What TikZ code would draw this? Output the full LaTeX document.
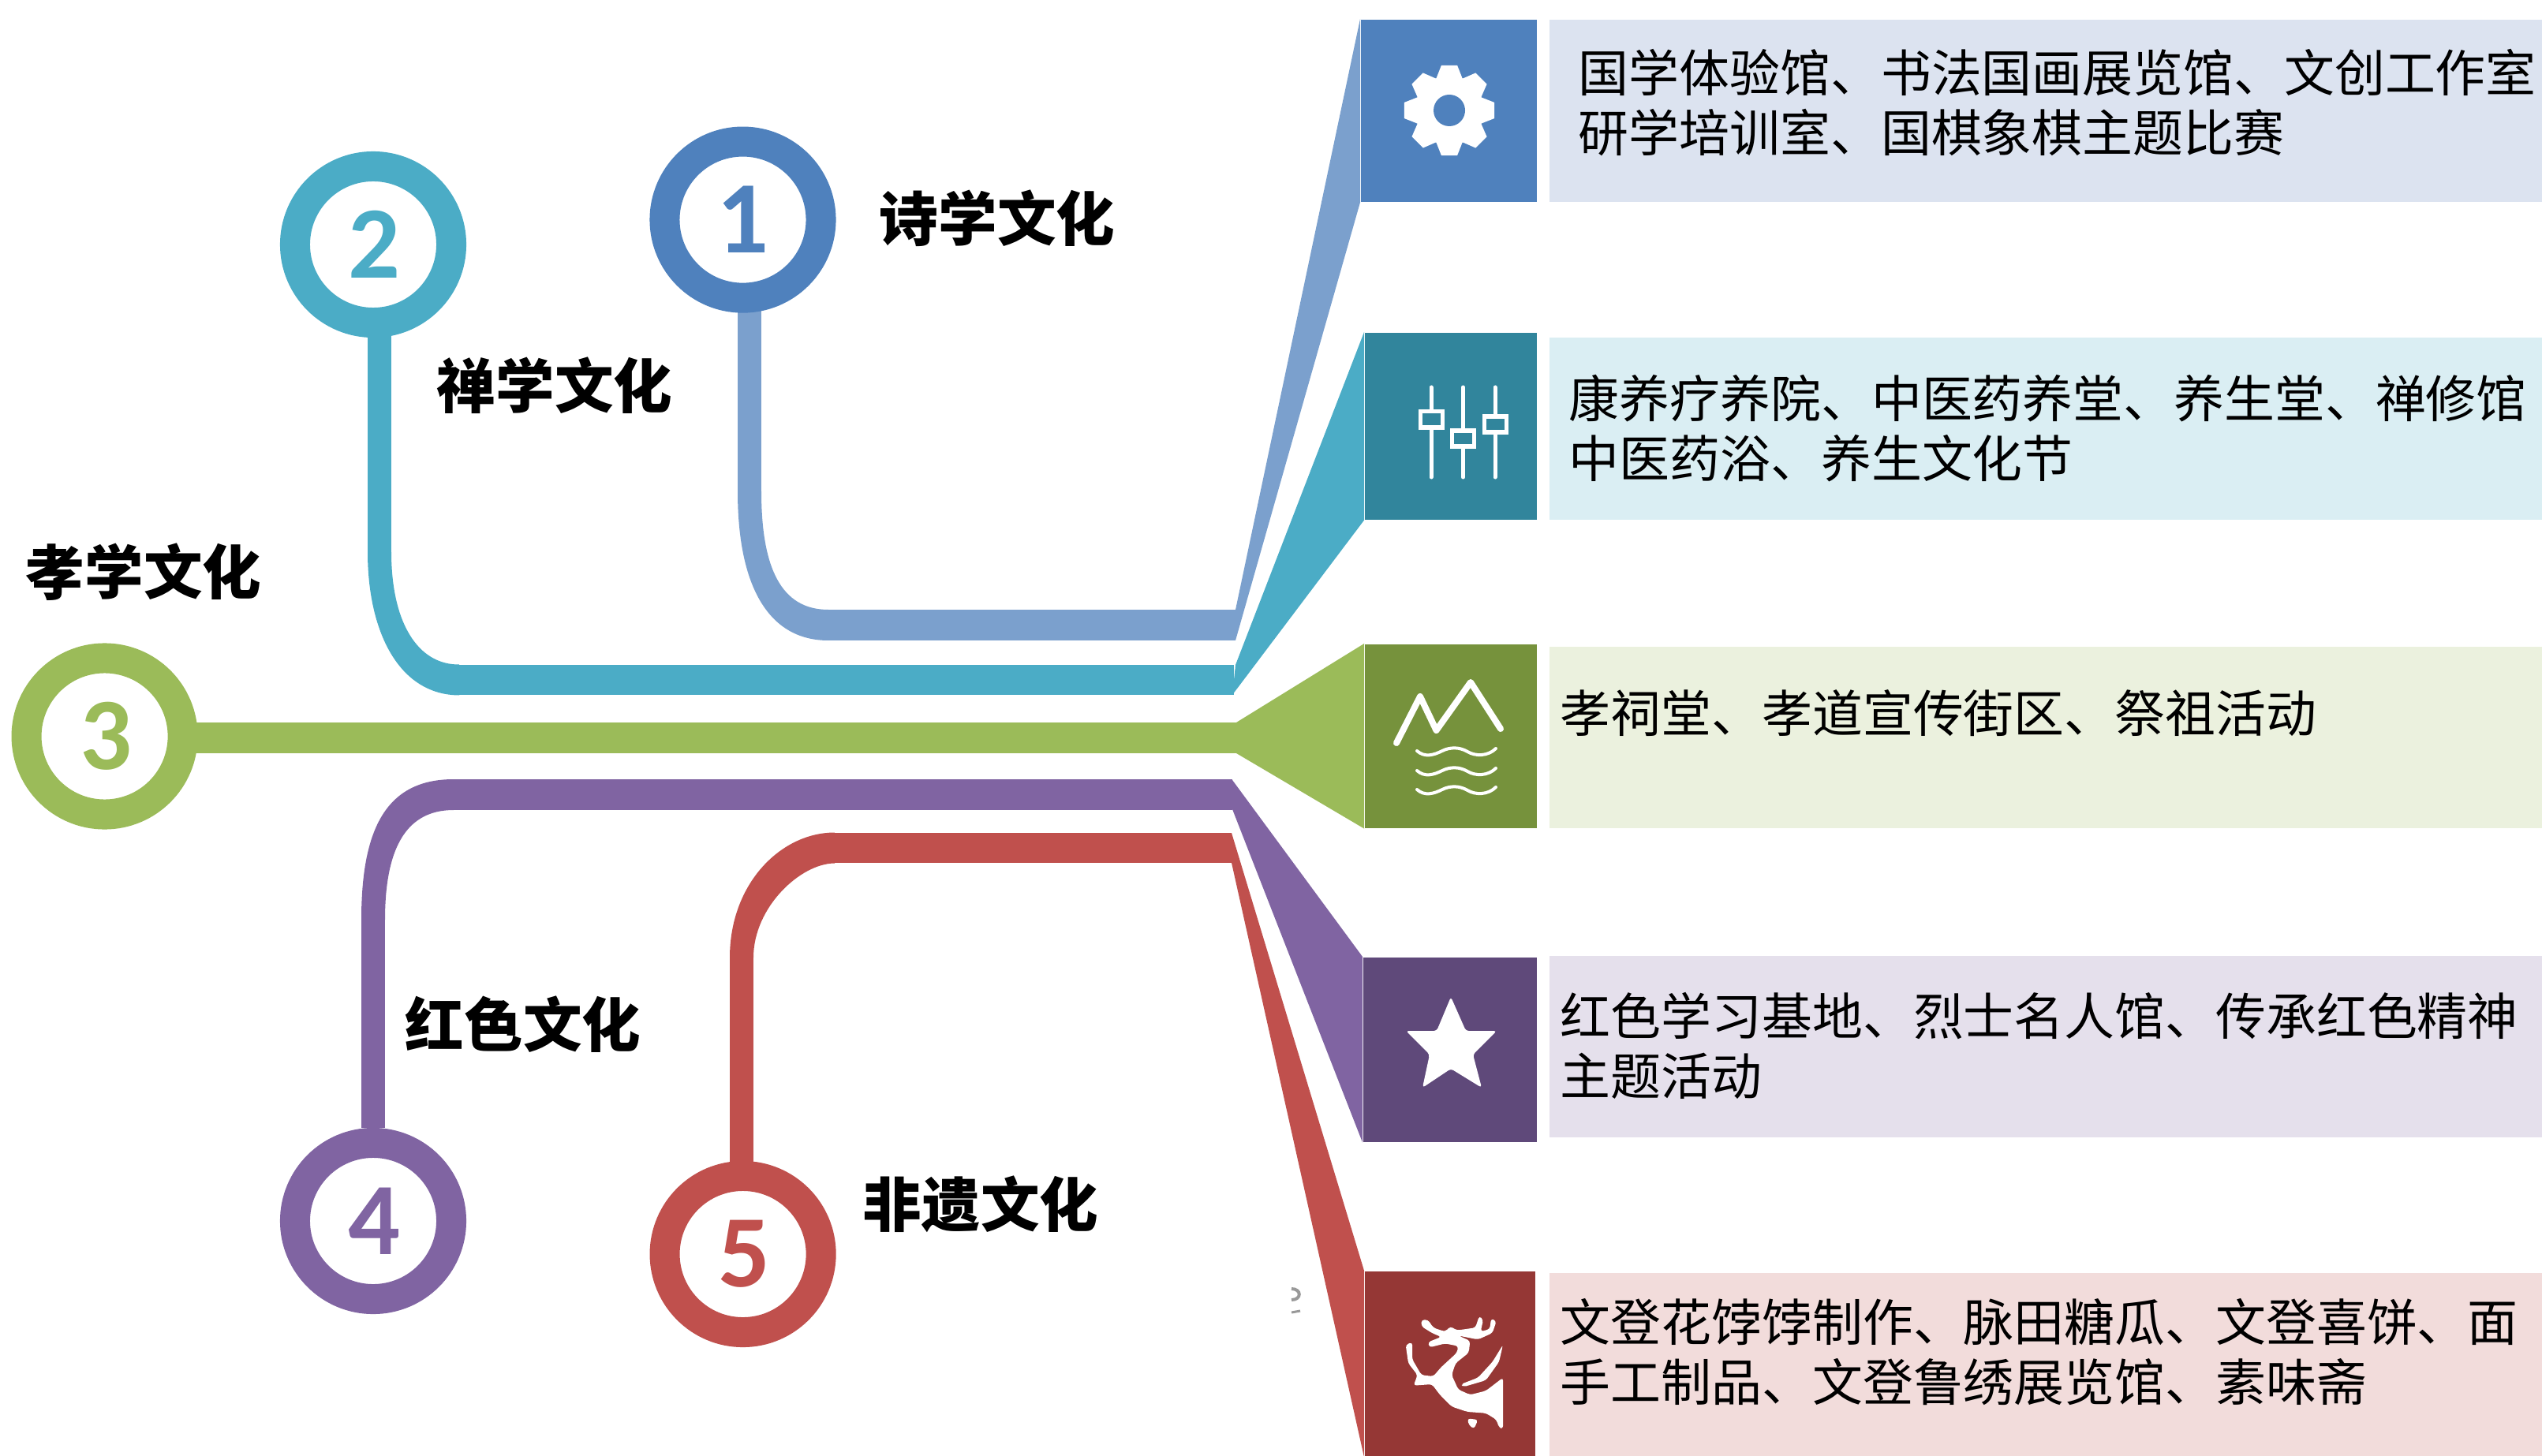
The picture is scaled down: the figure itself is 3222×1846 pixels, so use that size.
\documentclass[tikz,border=0pt]{standalone}
\usepackage{fontspec}
\setmainfont{Noto Sans CJK SC}
\newfontfamily\numfont{Carlito}
\usetikzlibrary{backgrounds,calc}

\definecolor{blueA}{HTML}{4F81BD}
\definecolor{blueB}{HTML}{7BA0CD}
\definecolor{blueC}{HTML}{DCE3F0}
\definecolor{tealA}{HTML}{4BACC6}
\definecolor{tealB}{HTML}{31859C}
\definecolor{tealC}{HTML}{DAEEF3}
\definecolor{greenA}{HTML}{9BBB59}
\definecolor{greenB}{HTML}{76923C}
\definecolor{greenC}{HTML}{EBF1DE}
\definecolor{violetA}{HTML}{8064A2}
\definecolor{violetB}{HTML}{5F497A}
\definecolor{violetC}{HTML}{E5E0EC}
\definecolor{redA}{HTML}{C0504D}
\definecolor{redB}{HTML}{953735}
\definecolor{redC}{HTML}{F2DCDB}

\begin{document}
\begin{tikzpicture}[x=0.01cm,y=-0.01cm]

  \tikzstyle{ring}=[circle,fill=white,line width=0.38cm,minimum size=1.98cm,inner sep=0pt,font=\numfont\fontsize{37}{37}\selectfont\bfseries]
  \tikzstyle{icon}=[rectangle,anchor=north west,inner sep=0pt]
  \tikzstyle{panel}=[rectangle,anchor=north west,inner sep=0pt,minimum width=12.59cm]
  \tikzstyle{say}=[anchor=west,align=left,inner sep=0pt,font=\fontsize{18.17}{21.6}\selectfont]
  \tikzstyle{tag}=[inner sep=0pt,font=\fontsize{21.2}{21}\selectfont\bfseries]
  \tikzstyle{lineA}=[line width=0.30cm]
  \tikzstyle{lineC}=[line width=0.385cm]

  \useasboundingbox (0,0) rectangle (3222,1846);

  \node[ring,draw=blueA,text=blueA] (n1) at (941.5,278.6) {1};
  \node[ring,draw=tealA,text=tealA] (n2) at (473,310) {\hspace{1pt}2};
  \node[ring,draw=greenA,text=greenA] (n3) at (132.6,933.5) {\hspace{1pt}3};
  \node[ring,draw=violetA,text=violetA] (n4) at (473,1548) {\hspace{1pt}4};
  \node[ring,draw=redA,text=redA] (n5) at (941.6,1590) {\hspace{1pt}5};

  \node[tag] (l1) at (1264,277) {诗学文化};
  \node[tag] (l2) at (703,489) {禅学文化};
  \node[tag] (l3) at (182,725) {孝学文化};
  \node[tag] (l4) at (663,1299) {红色文化};
  \node[tag] (l5) at (1243,1527) {非遗文化};

  \node[icon,fill=blueA,minimum width=2.23cm,minimum height=2.31cm] (i1) at (1724,24) {};
  \node[icon,fill=tealB,minimum width=2.18cm,minimum height=2.37cm] (i2) at (1729,421) {};
  \node[icon,fill=greenB,minimum width=2.18cm,minimum height=2.33cm] (i3) at (1729,816) {};
  \node[icon,fill=violetB,minimum width=2.20cm,minimum height=2.34cm] (i4) at (1727,1213) {};
  \node[icon,fill=redB,minimum width=2.16cm,minimum height=2.35cm] (i5) at (1729,1611) {};

  \node[panel,fill=blueC,minimum height=2.31cm] (p1) at (1963,24) {};
  \node[panel,fill=tealC,minimum height=2.31cm] (p2) at (1963,427) {};
  \node[panel,fill=greenC,minimum height=2.30cm] (p3) at (1963,819) {};
  \node[panel,fill=violetC,minimum height=2.30cm] (p4) at (1963,1211) {};
  \node[panel,fill=redC,minimum height=2.33cm] (p5) at (1963,1613) {};

  \node[say] (t1) at (2000,130) {国学体验馆、书法国画展览馆、文创工作室\\研学培训室、国棋象棋主题比赛};
  \node[say] (t2) at (1988,543) {康养疗养院、中医药养堂、养生堂、禅修馆\\中医药浴、养生文化节};
  \node[say] (t3) at (1977,904) {孝祠堂、孝道宣传街区、祭祖活动};
  \node[say] (t4) at (1977,1326) {红色学习基地、烈士名人馆、传承红色精神\\主题活动};
  \node[say] (t5) at (1977,1714) {文登花饽饽制作、脉田糖瓜、文登喜饼、面\\手工制品、文登鲁绣展览馆、素味斋};

  \coordinate (a1) at (950,623);
  \coordinate (b1) at (1050,792.5);
  \coordinate (w1) at (1566,792.5);
  \coordinate (a2) at (481,700);
  \coordinate (b2) at (582,862);
  \coordinate (w2) at (1564,862);
  \coordinate (w3) at (1567,935.5);
  \coordinate (a4) at (473,1166);
  \coordinate (b4) at (575,1007.5);
  \coordinate (w4) at (1562,1007.5);
  \coordinate (a5) at (940,1214);
  \coordinate (b5) at (1058,1075);
  \coordinate (w5) at (1561,1075);

  \begin{scope}[on background layer]
    \draw[lineA,blueB] (n1 -| a1) -- (a1);
    \fill[blueB] ($(a1)+(-15,0)$) .. controls (935,745) and (975,812) .. ($(b1)+(0,19.5)$) -- ($(b1)+(0,-19.5)$) .. controls (990,773) and (965,720) .. ($(a1)+(15,0)$) -- cycle;
    \draw[lineC,blueB] (b1) -- (w1);
    \draw[lineA,tealA] (n2 -| a2) -- (a2);
    \fill[tealA] ($(a2)+(-15,0)$) .. controls (466,800) and (505,881) .. ($(b2)+(0,19.5)$) -- ($(b2)+(0,-19.5)$) .. controls (530,843) and (496,790) .. ($(a2)+(15,0)$) -- cycle;
    \draw[lineC,tealA] (b2) -- (w2);
    \draw[lineC,greenA] (n3 |- w3) -- (w3);
    \draw[lineA,violetA] (n4) -- (a4);
    \fill[violetA] ($(a4)+(-15,0)$) .. controls (458,1050) and (490,988) .. ($(b4)+(0,-19.5)$) -- ($(b4)+(0,19.5)$) .. controls (525,1027) and (488,1060) .. ($(a4)+(15,0)$) -- cycle;
    \draw[lineC,violetA] (b4) -- (w4);
    \draw[lineA,redA] (n5 -| a5) -- (a5);
    \fill[redA] ($(a5)+(-15,0)$) .. controls (925,1120) and (990,1055.5) .. ($(b5)+(0,-19.5)$) -- ($(b5)+(0,19.5)$) .. controls (1015,1094.5) and (955,1150) .. ($(a5)+(15,0)$) -- cycle;
    \draw[lineC,redA] (b5) -- (w5);
  \end{scope}

  \fill[blueB] (1566,773) -- (i1.north west) -- (i1.south west) -- (1566,812) -- cycle;
  \fill[tealA] (1566,843) -- (i2.north west) -- (i2.south west) -- (1562,881) -- cycle;
  \fill[greenA] (1567,916) -- (i3.north west) -- (i3.south west) -- (1567,955) -- cycle;
  \fill[violetA] (1562,989) -- (i4.north west) -- (i4.south west) -- (1562,1026) -- cycle;
  \fill[redA] (1561,1056) -- (i5.north west) -- (i5.south west) -- (1561,1094) -- cycle;

  %gear
  \coordinate (g1) at (1837,140);
  \fill[white] (g1) circle (44);
  \foreach \a in {0,45,...,315}
    \fill[white] ([shift={(\a-10:58)}]g1) -- ([shift={(\a+10:58)}]g1) -- ([shift={(\a+22:44)}]g1) -- ([shift={(\a-22:44)}]g1) -- cycle;
  \fill[blueA] (g1) circle (20);

  %sliders
  \foreach \x/\y in {1814/532,1854.5/556,1895/538} {
    \draw[white,line width=0.05cm,line cap=round] (\x,491) -- (\x,605);
    \draw[white,fill=tealB,line width=0.05cm] (\x-14,\y-10) rectangle (\x+14,\y+10);
  }

  %mountain
  \draw[white,line width=0.08cm,line cap=round,line join=round] (1770,942) -- (1800,883) -- (1820.5,926) -- (1864,865) -- (1902,924);
  \foreach \y in {952,977,1001}
    \draw[white,line width=0.04cm,line cap=round] (1796,\y) .. controls (1806,\y+9) and (1818,\y+5) .. (1828,\y) .. controls (1838,\y-5) and (1850,\y-5) .. (1860,\y+1) .. controls (1870,\y+7) and (1886,\y+7) .. (1896,\y-3);

  %star
  \fill[white,rounded corners=1pt] (1839,1264) -- (1858,1307) -- (1897,1307) -- (1867,1337) -- (1878,1379) -- (1839,1355) -- (1803,1379) -- (1812,1337) -- (1782,1307) -- (1821,1307) -- cycle;

  %dragon
  \begin{scope}[shift={(1760,1640)},scale=1/3]
    \fill[white,rounded corners=1pt] (265,160) -- (310,180) -- (305,225) -- (255,265) -- (240,310) -- (265,365) -- (310,385) -- (370,370) -- (435,320) -- (435,515) -- (420,510) -- (410,480) -- (370,455) -- (300,450) -- (240,430) -- (195,385) -- (165,345) -- (95,350) -- (110,310) -- (75,265) -- (65,195) -- (90,185) -- (90,250) -- (125,310) -- (170,315) -- (200,280) -- (260,225) -- (265,200) -- (215,190) -- (155,205) -- (150,185) -- (200,165) -- (165,150) -- (125,125) -- (125,100) -- (150,100) -- (170,130) -- (215,145) -- (235,125) -- (260,140) -- (330,130) -- (345,85) -- (360,100) -- (350,145) -- (385,135) -- (390,95) -- (410,105) -- (395,150) -- (340,175) -- cycle;
    \fill[white,rounded corners=1pt] (435,195) -- (420,260) -- (370,330) -- (285,355) -- (275,345) -- (340,320) -- (395,260) -- cycle;
    \fill[white,rounded corners=1pt] (300,475) -- (340,480) -- (325,515) -- (305,500) -- cycle;
  \end{scope}

  \draw[black!40,line width=0.04cm] (1637,1634) .. controls (1650,1634) and (1650,1648) .. (1637,1648);
  \draw[black!40,line width=0.03cm] (1637,1664) -- (1648,1662);

\end{tikzpicture}
\end{document}
